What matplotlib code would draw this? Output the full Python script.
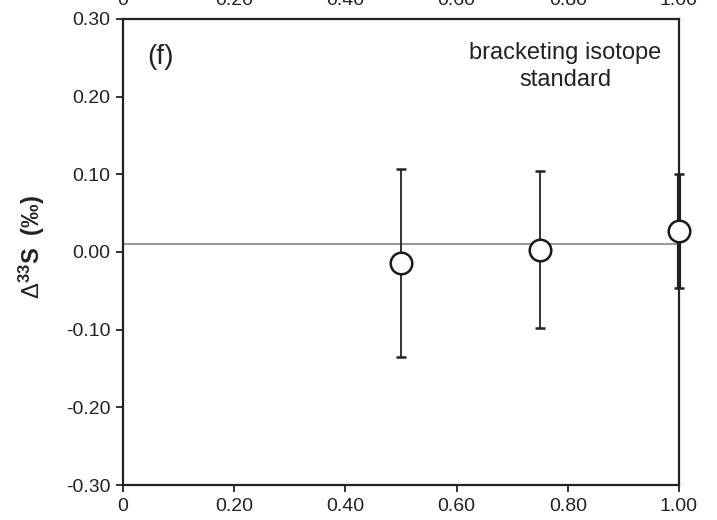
import matplotlib
matplotlib.use('Agg')
import matplotlib.pyplot as plt
import matplotlib.transforms as mtransforms

plt.rcParams['font.family'] = ['Liberation Sans', 'DejaVu Sans']
plt.rcParams['mathtext.fontset'] = 'custom'
plt.rcParams['mathtext.rm'] = 'Liberation Sans'
plt.rcParams['mathtext.it'] = 'Liberation Sans:italic'
plt.rcParams['mathtext.bf'] = 'Liberation Sans:bold'

# data
x_pos = [0.50, 0.75, 1.00]
d33s = [-0.014, 0.003, 0.027]
d33s_err = [0.121, 0.101, 0.073]
ref_line = 0.01

xticks = [0, 0.2, 0.4, 0.6, 0.8, 1.0]
xtick_labels = ['0', '0.20', '0.40', '0.60', '0.80', '1.00']
yticks = [-0.3, -0.2, -0.1, 0.0, 0.1, 0.2, 0.3]
ytick_labels = ['-0.30', '-0.20', '-0.10', '0.00', '0.10', '0.20', '0.30']

fig = plt.figure(figsize=(7.17, 5.20), dpi=100)
ax = fig.add_axes([0.1715, 0.0673, 0.7755, 0.8962])

ax.axhline(ref_line, color='#999999', lw=1.5, zorder=1)

eb = ax.errorbar(x_pos, d33s, yerr=d33s_err, fmt='o', ms=15.5, mfc='white',
                 mec='#1a1a1a', mew=1.8, ecolor='#222222', elinewidth=1.3,
                 capsize=3.3, capthick=1.3, clip_on=False, zorder=3)
# last point sits on the right spine, keep its bar visible (and heavier)
for art in list(eb.lines[1]) + list(eb.lines[2]):
    art.set_clip_on(False)
    art.set_zorder(3)
eb.lines[2][0].set_linewidths([1.3, 1.3, 3.0])

ax.set_xlim(0, 1.0)
ax.set_ylim(-0.3, 0.3)
ax.set_xticks(xticks)
ax.set_xticklabels(xtick_labels)
ax.set_yticks(yticks)
ax.set_yticklabels(ytick_labels)
ax.tick_params(axis='both', direction='out', length=5, width=1.3,
               labelsize=14, color='#222222', labelcolor='#222222', pad=4)
ax.tick_params(top=False, right=False)
for s in ax.spines.values():
    s.set_linewidth(1.6)
    s.set_color('#222222')

ax.set_ylabel(r'$\Delta^{\mathbf{33}}\mathbf{S}$  (‰)', fontsize=17,
              fontweight='bold', color='#222222')
ax.yaxis.set_label_coords(-0.137, 0.511)

ax.text(0.043, 0.947, '(f)', transform=ax.transAxes, fontsize=20,
        color='#222222', va='top')
ax.text(0.795, 0.951, 'bracketing isotope\nstandard', transform=ax.transAxes,
        fontsize=17, color='#222222', ha='center', va='top', linespacing=1.3)

# tick labels of the panel above, cut off by the top edge
trans = mtransforms.blended_transform_factory(ax.transData, fig.transFigure)
for xv, lab in zip(xticks, xtick_labels):
    fig.text(xv, 0.9904, lab, transform=trans, ha='center', va='baseline',
             fontsize=14, color='#222222')

fig.savefig('out.png', dpi=100)
